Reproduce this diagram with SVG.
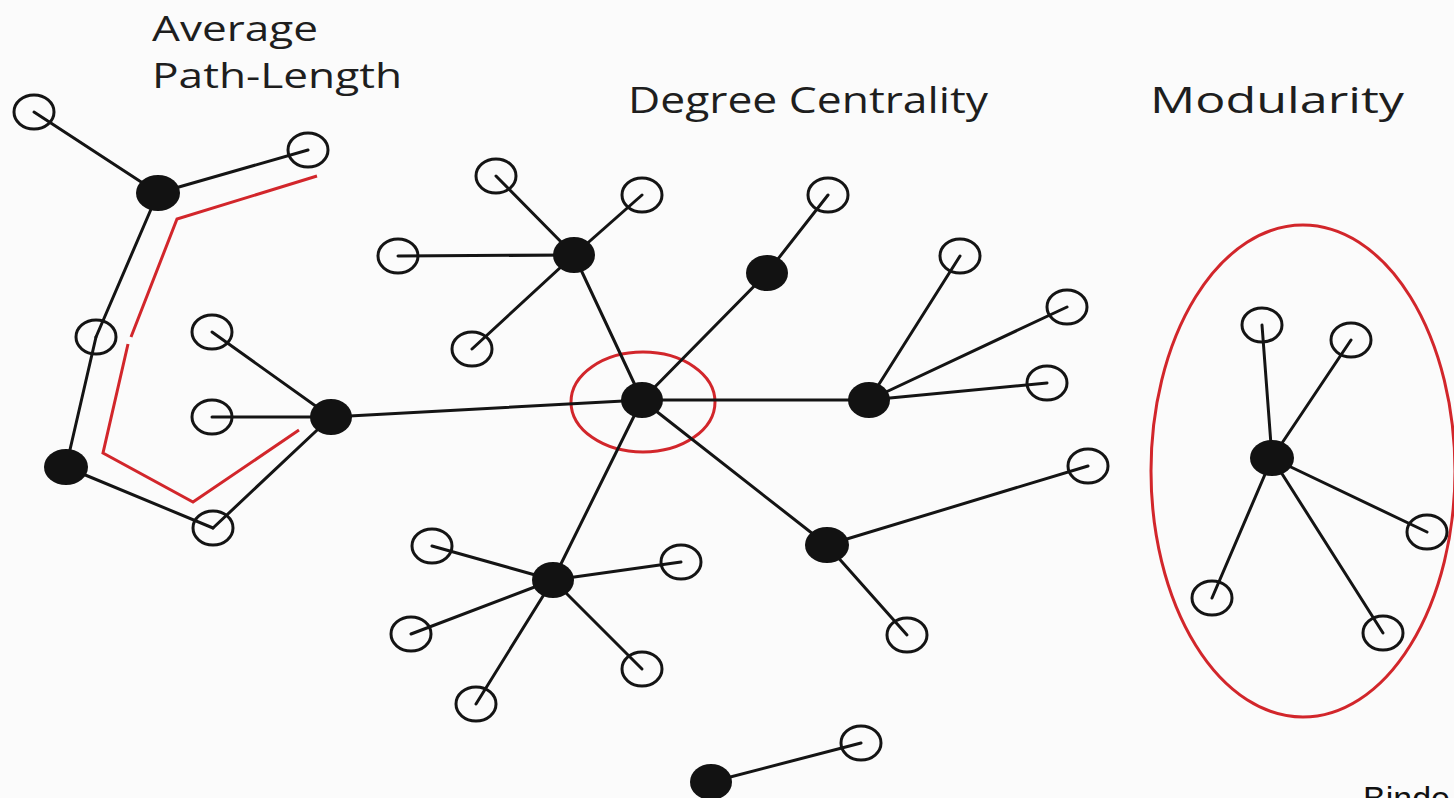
<svg xmlns="http://www.w3.org/2000/svg" width="1454" height="798" viewBox="0 0 1454 798">
  <style>
    .title { font-family: "Open Sans", "Noto Sans", "Liberation Sans", sans-serif; fill: #1e1e1e; }
    .edge { stroke: #141414; stroke-width: 3; fill: none; stroke-linecap: round; }
    .path { stroke: #d2262b; stroke-width: 3; fill: none; stroke-linejoin: miter; }
    .ring { stroke: #d2262b; stroke-width: 3; fill: none; }
    .open { fill: none; stroke: #141414; stroke-width: 3; }
    .hub { fill: #121212; }
    .credit { font-family: "Liberation Sans", Arial, sans-serif; fill: #111; }
  </style>

  <rect width="1454" height="798" fill="#fbfbfb"/>

  <!-- Titles -->
  <g id="labels">
    <text class="title" x="152" y="41" font-size="35" textLength="166" lengthAdjust="spacingAndGlyphs">Average</text>
    <text class="title" x="152" y="88" font-size="35" textLength="250" lengthAdjust="spacingAndGlyphs">Path-Length</text>
    <text class="title" x="628" y="113" font-size="37" textLength="360" lengthAdjust="spacingAndGlyphs">Degree Centrality</text>
    <text class="title" x="1150" y="113" font-size="37" textLength="254" lengthAdjust="spacingAndGlyphs">Modularity</text>
    <text class="credit" x="1363" y="810" font-size="34">Binde</text>
  </g>

  <!-- Highlight shapes -->
  <g id="highlights">
    <path class="path" d="M317,176 L177,219 L131,337 M128,344 L103,453 L193,502 L299,430"/>
    <ellipse class="ring" cx="643" cy="402" rx="72" ry="50"/>
    <ellipse class="ring" cx="1303" cy="471" rx="152" ry="246"/>
  </g>

  <!-- Connectors -->
  <g id="connectors">
    <!-- path-length chain -->
    <line class="edge" x1="34" y1="112" x2="158" y2="193"/>
    <line class="edge" x1="158" y1="193" x2="308" y2="150"/>
    <line class="edge" x1="158" y1="193" x2="96" y2="337"/>
    <line class="edge" x1="96" y1="337" x2="66" y2="467"/>
    <line class="edge" x1="66" y1="467" x2="213" y2="528"/>
    <line class="edge" x1="213" y1="528" x2="331" y2="417"/>
    <line class="edge" x1="331" y1="417" x2="212" y2="332"/>
    <line class="edge" x1="331" y1="417" x2="212" y2="417"/>
    <line class="edge" x1="331" y1="417" x2="642" y2="400"/>
    <!-- central hub -->
    <line class="edge" x1="642" y1="400" x2="574" y2="255"/>
    <line class="edge" x1="642" y1="400" x2="767" y2="273"/>
    <line class="edge" x1="642" y1="400" x2="869" y2="400"/>
    <line class="edge" x1="642" y1="400" x2="553" y2="580"/>
    <line class="edge" x1="642" y1="400" x2="827" y2="545"/>
    <!-- upper-left star -->
    <line class="edge" x1="574" y1="255" x2="496" y2="176"/>
    <line class="edge" x1="574" y1="255" x2="642" y2="195"/>
    <line class="edge" x1="574" y1="255" x2="398" y2="256"/>
    <line class="edge" x1="574" y1="255" x2="472" y2="349"/>
    <!-- upper branch -->
    <line class="edge" x1="767" y1="273" x2="828" y2="195"/>
    <!-- right star -->
    <line class="edge" x1="869" y1="400" x2="960" y2="256"/>
    <line class="edge" x1="869" y1="400" x2="1067" y2="307"/>
    <line class="edge" x1="869" y1="400" x2="1047" y2="383"/>
    <!-- lower-left star -->
    <line class="edge" x1="553" y1="580" x2="432" y2="546"/>
    <line class="edge" x1="553" y1="580" x2="681" y2="562"/>
    <line class="edge" x1="553" y1="580" x2="411" y2="634"/>
    <line class="edge" x1="553" y1="580" x2="476" y2="704"/>
    <line class="edge" x1="553" y1="580" x2="642" y2="669"/>
    <!-- lower-right branch -->
    <line class="edge" x1="827" y1="545" x2="1088" y2="466"/>
    <line class="edge" x1="827" y1="545" x2="907" y2="635"/>
    <!-- detached pair -->
    <line class="edge" x1="711" y1="782" x2="861" y2="743"/>
    <!-- module -->
    <line class="edge" x1="1272" y1="458" x2="1262" y2="325"/>
    <line class="edge" x1="1272" y1="458" x2="1351" y2="340"/>
    <line class="edge" x1="1272" y1="458" x2="1427" y2="532"/>
    <line class="edge" x1="1272" y1="458" x2="1212" y2="598"/>
    <line class="edge" x1="1272" y1="458" x2="1383" y2="633"/>
  </g>

  <!-- Nodes -->
  <g id="node-a"><ellipse class="open" cx="34" cy="112" rx="20" ry="17"/></g>
  <g id="node-b"><ellipse class="hub" cx="158" cy="193" rx="22" ry="18"/></g>
  <g id="node-c"><ellipse class="open" cx="308" cy="150" rx="20" ry="17"/></g>
  <g id="node-d"><ellipse class="open" cx="96" cy="337" rx="20" ry="17"/></g>
  <g id="node-e"><ellipse class="hub" cx="66" cy="467" rx="22" ry="18"/></g>
  <g id="node-f"><ellipse class="open" cx="213" cy="528" rx="20" ry="17"/></g>
  <g id="node-g"><ellipse class="hub" cx="331" cy="417" rx="21" ry="18"/></g>
  <g id="node-h"><ellipse class="open" cx="212" cy="332" rx="20" ry="17"/></g>
  <g id="node-i"><ellipse class="open" cx="212" cy="417" rx="20" ry="17"/></g>

  <g id="node-center"><ellipse class="hub" cx="642" cy="400" rx="21" ry="18"/></g>

  <g id="node-j"><ellipse class="hub" cx="574" cy="255" rx="21" ry="18"/></g>
  <g id="node-j1"><ellipse class="open" cx="496" cy="176" rx="20" ry="17"/></g>
  <g id="node-j2"><ellipse class="open" cx="642" cy="195" rx="20" ry="17"/></g>
  <g id="node-j3"><ellipse class="open" cx="398" cy="256" rx="20" ry="17"/></g>
  <g id="node-j4"><ellipse class="open" cx="472" cy="349" rx="20" ry="17"/></g>

  <g id="node-k"><ellipse class="hub" cx="767" cy="273" rx="21" ry="18"/></g>
  <g id="node-k1"><ellipse class="open" cx="828" cy="195" rx="20" ry="17"/></g>

  <g id="node-l"><ellipse class="hub" cx="869" cy="400" rx="21" ry="18"/></g>
  <g id="node-l1"><ellipse class="open" cx="960" cy="256" rx="20" ry="17"/></g>
  <g id="node-l2"><ellipse class="open" cx="1067" cy="307" rx="20" ry="17"/></g>
  <g id="node-l3"><ellipse class="open" cx="1047" cy="383" rx="20" ry="17"/></g>

  <g id="node-m"><ellipse class="hub" cx="553" cy="580" rx="21" ry="18"/></g>
  <g id="node-m1"><ellipse class="open" cx="432" cy="546" rx="20" ry="17"/></g>
  <g id="node-m2"><ellipse class="open" cx="681" cy="562" rx="20" ry="17"/></g>
  <g id="node-m3"><ellipse class="open" cx="411" cy="634" rx="20" ry="17"/></g>
  <g id="node-m4"><ellipse class="open" cx="476" cy="704" rx="20" ry="17"/></g>
  <g id="node-m5"><ellipse class="open" cx="642" cy="669" rx="20" ry="17"/></g>

  <g id="node-n"><ellipse class="hub" cx="827" cy="545" rx="22" ry="18"/></g>
  <g id="node-n1"><ellipse class="open" cx="1088" cy="466" rx="20" ry="17"/></g>
  <g id="node-n2"><ellipse class="open" cx="907" cy="635" rx="20" ry="17"/></g>

  <g id="node-p"><ellipse class="hub" cx="711" cy="782" rx="21" ry="18"/></g>
  <g id="node-p1"><ellipse class="open" cx="861" cy="743" rx="20" ry="17"/></g>

  <g id="node-q"><ellipse class="hub" cx="1272" cy="458" rx="22" ry="18"/></g>
  <g id="node-q1"><ellipse class="open" cx="1262" cy="325" rx="20" ry="17"/></g>
  <g id="node-q2"><ellipse class="open" cx="1351" cy="340" rx="20" ry="17"/></g>
  <g id="node-q3"><ellipse class="open" cx="1427" cy="532" rx="20" ry="17"/></g>
  <g id="node-q4"><ellipse class="open" cx="1212" cy="598" rx="20" ry="17"/></g>
  <g id="node-q5"><ellipse class="open" cx="1383" cy="633" rx="20" ry="17"/></g>
</svg>
